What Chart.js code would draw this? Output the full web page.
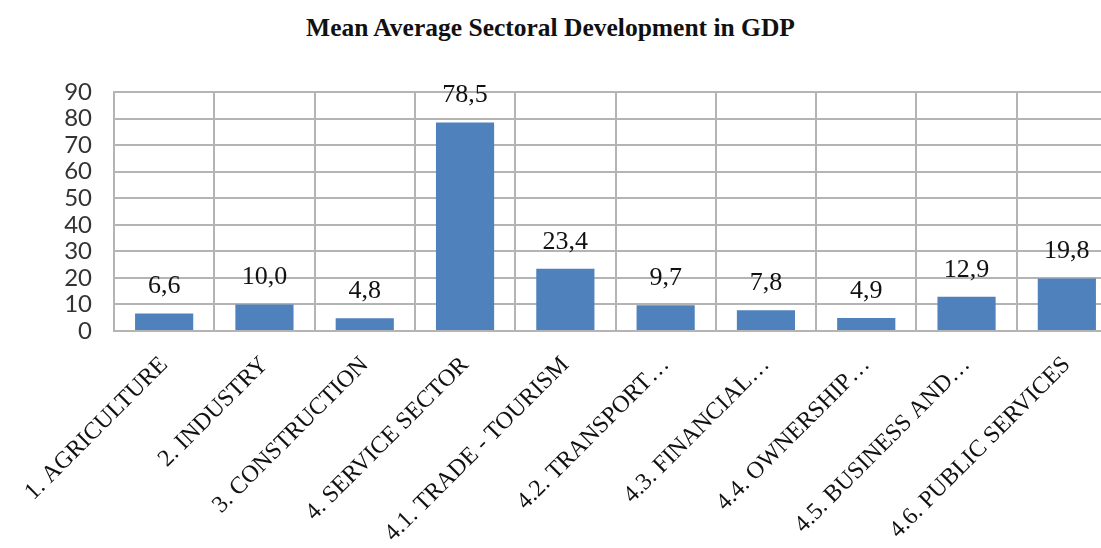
<!DOCTYPE html>
<html lang="en">
  <head>
    <meta charset="UTF-8" />
    <title>Mean Average Sectoral Development in GDP</title>
    <style>
      body {
        margin: 0;
        padding: 0;
        width: 1101px;
        height: 548px;
        overflow: hidden;
        background-color: #fff;
        position: relative;
      }
      .title {
        position: absolute;
        top: 13px;
        left: 0;
        width: 1101px;
        text-align: center;
        font-family: "Liberation Serif", serif;
        font-weight: bold;
        font-size: 25.5px;
        color: #111;
      }
      .chart-box {
        position: absolute;
        top: 0;
        left: 0;
        width: 1120px;
        height: 548px;
      }
    </style>
  </head>
  <body>
    <div class="title">Mean Average Sectoral Development in GDP</div>
    <div class="chart-box">
      <canvas id="bar-chart"></canvas>
    </div>

    <script src="https://cdn.jsdelivr.net/npm/chart.js@4/dist/chart.umd.min.js"></script>
    <script>
      const sectors = [
        "1. AGRICULTURE",
        "2. INDUSTRY",
        "3. CONSTRUCTION",
        "4. SERVICE SECTOR",
        "4.1. TRADE - TOURISM",
        "4.2. TRANSPORT…",
        "4.3. FINANCIAL…",
        "4.4. OWNERSHIP…",
        "4.5. BUSINESS AND…",
        "4.6. PUBLIC SERVICES",
      ];
      const meanValues = [6.6, 10.0, 4.8, 78.5, 23.4, 9.7, 7.8, 4.9, 12.9, 19.8];
      const yTicks = [0, 10, 20, 30, 40, 50, 60, 70, 80, 90];

      // value labels above bars, decimal comma like the original
      const valueLabels = {
        id: "valueLabels",
        afterDatasetsDraw(chart) {
          const ctx = chart.ctx;
          const meta = chart.getDatasetMeta(0);
          ctx.save();
          ctx.font = '26px "Liberation Serif", serif';
          ctx.fillStyle = "#111";
          ctx.textAlign = "center";
          ctx.textBaseline = "middle";
          meta.data.forEach((bar, i) => {
            const txt = meanValues[i].toFixed(1).replace(".", ",");
            ctx.fillText(txt, bar.x, bar.y - 27);
          });
          ctx.restore();
        },
      };

      const ctx = document.getElementById("bar-chart").getContext("2d");
      new Chart(ctx, {
        type: "bar",
        data: {
          labels: sectors,
          datasets: [
            {
              data: meanValues,
              backgroundColor: "#4f81bd",
              categoryPercentage: 1,
              barPercentage: 0.58,
            },
          ],
        },
        options: {
          responsive: true,
          maintainAspectRatio: false,
          animation: false,
          layout: { padding: { top: 92, right: 3, left: 0, bottom: 0 } },
          plugins: {
            legend: { display: false },
            tooltip: { enabled: false },
          },
          scales: {
            x: {
              grid: {
                offset: true,
                color: "#b4b4b4",
                lineWidth: 2,
                drawTicks: false,
              },
              border: { color: "#b4b4b4", width: 2 },
              ticks: {
                autoSkip: false,
                maxRotation: 45,
                minRotation: 45,
                padding: 20,
                color: "#111",
                font: { family: '"Liberation Serif", serif', size: 24 },
              },
              afterFit(scale) {
                scale.height = 217;
              },
            },
            y: {
              min: 0,
              max: 90,
              afterBuildTicks(scale) {
                scale.ticks = yTicks.map((v) => ({ value: v }));
              },
              grid: { color: "#b4b4b4", lineWidth: 2, drawTicks: false },
              border: { color: "#b4b4b4", width: 2 },
              ticks: {
                autoSkip: false,
                padding: 22,
                color: "#333",
                font: { family: "Lato, sans-serif", size: 24 },
              },
              afterFit(scale) {
                scale.width = 114;
              },
            },
          },
        },
        plugins: [valueLabels],
      });
    </script>
  </body>
</html>
